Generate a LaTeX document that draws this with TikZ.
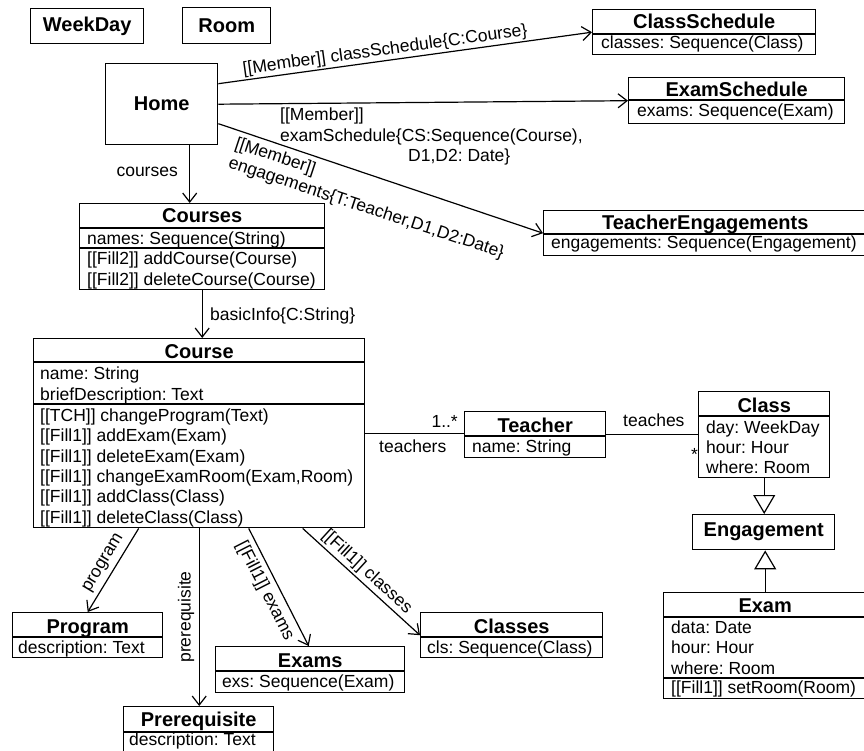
\documentclass[tikz,border=0pt]{standalone}
\usepackage{fontspec}
\setmainfont{Liberation Sans}
\frenchspacing
\usetikzlibrary{arrows.meta}
\tikzset{
  umlbox/.style={draw, line width=1.4pt, inner sep=0pt, anchor=north west},
  boldbox/.style={umlbox, font=\fontsize{20pt}{22pt}\selectfont\bfseries},
  sepline/.style={line width=1.3pt},
  txt/.style={inner sep=0pt, anchor=base west, font=\fontsize{17.5pt}{20.4pt}\selectfont},
  hdr/.style={inner sep=0pt, anchor=base, font=\fontsize{20pt}{22pt}\selectfont\bfseries},
  lbl/.style={inner sep=1.5pt, font=\fontsize{17.5pt}{20.4pt}\selectfont},
  conn/.style={line width=1.2pt},
  nav/.style={conn, -{Straight Barb[length=9pt,width=14pt]}},
  gen/.style={conn, -{Triangle[open,length=19pt,width=22pt]}},
}
\newcommand\mkbox[5]{\node[umlbox, minimum width={#4-#2}, minimum height={#5-#3}] (#1) at (#2,#3) {};}
\newcommand\mksep[2]{\draw[sepline] (#1.west |- 0,#2) -- (#1.east |- 0,#2);}
\begin{document}
\begin{tikzpicture}[x=1pt,y=-1pt]
\useasboundingbox (0,0) rectangle (864,751);
\clip (0,0) rectangle (864,751);

% title-only boxes
\node[boldbox, minimum width=113, minimum height=35] (weekday) at (30,8) {WeekDay};
\node[boldbox, minimum width=88, minimum height=36] (room) at (182,7) {Room};
\node[boldbox, minimum width=112, minimum height=81] (home) at (105,63) {Home};
\node[boldbox, minimum width=142, minimum height=35] (engagement) at (692,514) {Engagement};

% class boxes
\mkbox{cs}{592}{9}{815}{54}
\mkbox{es}{628}{77}{844}{123}
\mkbox{te}{543}{210}{866}{255}
\mkbox{courses}{79}{203}{324}{289}
\mkbox{course}{33}{338}{364}{527}
\mkbox{teacher}{464}{411}{605}{457}
\mkbox{class}{698}{391}{829}{477}
\mkbox{exam}{663}{592}{866}{698}
\mkbox{classes}{420}{612}{602}{657}
\mkbox{program}{12}{612}{162}{657}
\mkbox{exams}{215}{646}{404}{692}
\mkbox{prereq}{123}{706}{273}{753}

% separators
\mksep{cs}{34}
\mksep{es}{100}
\mksep{te}{234}
\mksep{courses}{228}\mksep{courses}{248}
\mksep{course}{362}\mksep{course}{404}
\mksep{teacher}{436}
\mksep{class}{416}
\mksep{exam}{617}\mksep{exam}{678}
\mksep{classes}{637}
\mksep{program}{637}
\mksep{exams}{671}
\mksep{prereq}{732}

% headers
\node[hdr] (csh) at (cs.north |- 0,29) {ClassSchedule};
\node[hdr] (esh) at (es.north |- 0,97) {ExamSchedule};
\node[hdr] (teh) at (te.north |- 0,230) {TeacherEngagements};
\node[hdr] (coursesh) at (courses.north |- 0,223) {Courses};
\node[hdr] (courseh) at (course.north |- 0,358) {Course};
\node[hdr] (teacherh) at (teacher.north |- 0,432) {Teacher};
\node[hdr] (classh) at (class.north |- 0,412) {Class};
\node[hdr] (examh) at (exam.north |- 0,612) {Exam};
\node[hdr] (classesh) at (classes.north |- 0,633) {Classes};
\node[hdr] (programh) at (program.north |- 0,633) {Program};
\node[hdr] (examsh) at (exams.north |- 0,667) {Exams};
\node[hdr] (prereqh) at (prereq.north |- 0,726) {Prerequisite};

% compartment texts
\node[txt] (cs1) at (601,49) {classes: Sequence(Class)};
\node[txt] (es1) at (637,117) {exams: Sequence(Exam)};
\node[txt] (te1) at (551,249) {engagements: Sequence(Engagement)};
\node[txt] (courses1) at (87,244) {names: Sequence(String)};
\node[txt] (courses2) at (87,265) {[[Fill2]] addCourse(Course)};
\node[txt] (courses3) at (87,285) {[[Fill2]] deleteCourse(Course)};
\node[txt] (course1) at (40,379) {name: String};
\node[txt] (course2) at (40,400) {briefDescription: Text};
\node[txt] (course3) at (40,421) {[[TCH]] changeProgram(Text)};
\node[txt] (course4) at (40,441) {[[Fill1]] addExam(Exam)};
\node[txt] (course5) at (40,462) {[[Fill1]] deleteExam(Exam)};
\node[txt] (course6) at (40,482) {[[Fill1]] changeExamRoom(Exam,Room)};
\node[txt] (course7) at (40,502) {[[Fill1]] addClass(Class)};
\node[txt] (course8) at (40,523) {[[Fill1]] deleteClass(Class)};
\node[txt] (teacher1) at (472,452) {name: String};
\node[txt] (class1) at (706,433) {day: WeekDay};
\node[txt] (class2) at (706,453) {hour: Hour};
\node[txt] (class3) at (706,473) {where: Room};
\node[txt] (exam1) at (671,633) {data: Date};
\node[txt] (exam2) at (671,653) {hour: Hour};
\node[txt] (exam3) at (671,674) {where: Room};
\node[txt] (exam4) at (671,693) {[[Fill1]] setRoom(Room)};
\node[txt] (classes1) at (427,653) {cls: Sequence(Class)};
\node[txt] (program1) at (18,653) {description: Text};
\node[txt] (exams1) at (222,687) {exs: Sequence(Exam)};
\node[txt] (prereq1) at (129,745) {description: Text};

% connectors
\draw[nav] ([yshift=20.5pt]home.east) -- node[lbl,pos=0.45,sloped,above] (lcs) {[[Member]] classSchedule\{C:Course\}} (cs.west);
\draw[nav] (home.east) -- (es.west);
\draw[nav] ([yshift=-19.5pt]home.east) -- (te.west);
\draw[nav] ([xshift=28pt]home.south) -- ([xshift=28pt]home.south |- courses.north);
\draw[nav] (courses.south) -- (courses.south |- course.north);
\draw[conn] (course.east) -- (course.east -| teacher.west);
\draw[conn] (teacher.east) -- (teacher.east -| class.west);
\draw[gen] (class.south) -- (class.south |- engagement.north);
\draw[gen] (exam.north) -- (exam.north |- engagement.south);
\draw[nav] ([xshift=-60.5pt]course.south) -- (program.north);
\draw[nav] (course.south) -- (course.south |- prereq.north);
\draw[nav] ([xshift=49.5pt]course.south) -- ([xshift=-1.5pt]exams.north);
\draw[nav] ([xshift=103.5pt]course.south) -- (classes.west);

% connector labels
\node[lbl, anchor=north west, align=left, inner sep=0pt] (les) at (280,108)
  {[[Member]]\\examSchedule\{CS:Sequence(Course),\\\hspace*{128pt}D1,D2: Date\}};
\node[lbl, anchor=north west, align=left, inner sep=0pt, rotate=-18.3] (leng) at (238,136)
  {[[Member]]\\engagements\{T:Teacher,D1,D2:Date\}};
\node[lbl, anchor=base east, inner sep=0pt] (lcourses) at (178,177) {courses};
\node[lbl, anchor=base west, inner sep=0pt] (lbasic) at (210,320) {basicInfo\{C:String\}};
\node[lbl, anchor=base east, inner sep=0pt] (lmult1) at (458,427) {1..*};
\node[lbl, anchor=base west, inner sep=0pt] (lteachers) at (379,452) {teachers};
\node[lbl, anchor=base west, inner sep=0pt] (lteaches) at (623,426) {teaches};
\node[lbl, anchor=base east, inner sep=0pt] (lmult2) at (698,460) {*};
\node[lbl, rotate=59] (lprog) at (104,563) {program};
\node[lbl, rotate=90] (lpre) at (186,617) {prerequisite};
\node[lbl, rotate=-63] (lexams) at (265,591) {[[Fill1]] exams};
\node[lbl, rotate=-42.4] (lcls) at (367,572) {[[Fill1]] classes};
\end{tikzpicture}
\end{document}
